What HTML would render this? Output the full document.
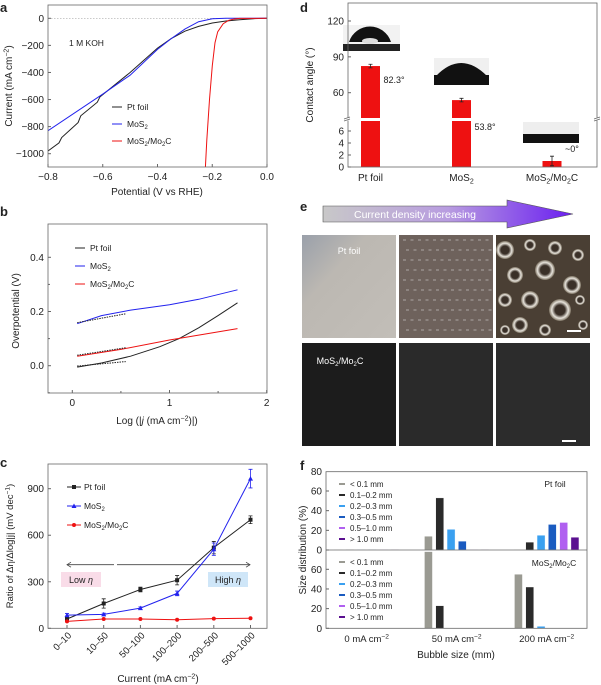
<!DOCTYPE html>
<html><head><meta charset="utf-8"><style>
body{margin:0;background:#fff}
svg{display:block;font-family:"Liberation Sans",sans-serif}
text{fill:#222}
</style></head><body>
<svg id="fig" width="601" height="685" viewBox="0 0 601 685" xmlns="http://www.w3.org/2000/svg">
<defs>
<linearGradient id="arrowG" x1="0" x2="1" y1="0" y2="0"><stop offset="0" stop-color="#c8c8c8"/><stop offset="0.5" stop-color="#b89ce0"/><stop offset="1" stop-color="#6a1ef0"/></linearGradient>
<radialGradient id="bub" cx="0.5" cy="0.5" r="0.5"><stop offset="0.45" stop-color="#3a3028"/><stop offset="0.75" stop-color="#e8e4dc"/><stop offset="1" stop-color="#7a7060"/></radialGradient>
<linearGradient id="ptImg" x1="0" x2="1" y1="0" y2="1"><stop offset="0" stop-color="#9aa0aa"/><stop offset="0.35" stop-color="#bcb8b2"/><stop offset="1" stop-color="#c2beb8"/></linearGradient>
</defs>
<g id="pa"></g>
<g id="pb"></g>
<g id="pc"></g>
<g id="pd"></g>
<g id="pe">
 <text x="300" y="211" font-size="13" font-weight="bold">e</text>
 <polygon points="323,206 507,206 507,200 573,214 507,228 507,222 323,222" fill="url(#arrowG)" stroke="#555" stroke-width="0.6"/>
 <text x="415" y="218" font-size="10.5" text-anchor="middle" style="fill:#fff">Current density increasing</text>
 <rect x="302" y="235" width="94" height="103" fill="url(#ptImg)"/>
 <rect x="399" y="235" width="94" height="103" fill="#6e625c"/>
 <rect x="496" y="235" width="94" height="103" fill="#4a3f34"/>
 <g id="bubbles"></g>
 <rect x="567" y="330" width="14" height="2" fill="#fff"/>
 <text x="349" y="254" font-size="9" text-anchor="middle" style="fill:#fff">Pt foil</text>
 <rect x="302" y="343" width="94" height="103" fill="#1c1c1c"/>
 <rect x="399" y="343" width="94" height="103" fill="#2a2a2a"/>
 <rect x="496" y="343" width="94" height="103" fill="#2c2c2c"/>
 <rect x="562" y="440" width="14" height="2" fill="#fff"/>
 <text x="340" y="364" font-size="9" text-anchor="middle" style="fill:#fff">MoS<tspan font-size="6" dy="2" style="fill:#fff">2</tspan><tspan dy="-2" style="fill:#fff">/Mo</tspan><tspan font-size="6" dy="2" style="fill:#fff">2</tspan><tspan dy="-2" style="fill:#fff">C</tspan></text>
</g>
<g id="pf"></g>
</svg>
<script>
// ---------- data ----------
const aPtX=[-0.8,-0.76,-0.75,-0.69,-0.68,-0.62,-0.61,-0.5,-0.4,-0.35,-0.3,-0.25,-0.2,-0.15,-0.1,-0.05,0];
const aPtY=[-980,-920,-880,-770,-720,-620,-580,-400,-220,-150,-95,-60,-35,-20,-10,-3,0];
const aMoX=[-0.8,-0.6,-0.5,-0.4,-0.35,-0.3,-0.25,-0.2,-0.15,0];
const aMoY=[-830,-560,-420,-230,-150,-80,-25,-3,0,0];
const aMcX=[-0.225,-0.22,-0.21,-0.2,-0.19,-0.18,-0.16,-0.14,-0.12,-0.1,0];
const aMcY=[-1100,-900,-600,-350,-180,-100,-40,-15,-5,-1,0];
const aXTicks=[-0.8,-0.6,-0.4,-0.2,0.0];
const aXLabels=["−0.8","−0.6","−0.4","−0.2","0.0"];
const aYTicks=[0,-200,-400,-600,-800,-1000];
const aYLabels=["0","−200","−400","−600","−800","−1000"];

const bPtX=[0.05,0.3,0.6,0.9,1.1,1.3,1.5,1.7];
const bPtY=[-0.005,0.01,0.035,0.07,0.1,0.14,0.185,0.232];
const bMoX=[0.05,0.3,0.6,1.0,1.3,1.7];
const bMoY=[0.155,0.185,0.205,0.225,0.245,0.28];
const bMcX=[0.05,0.5,1.0,1.7];
const bMcY=[0.035,0.06,0.095,0.137];
const bXTicks=[0,1,2];
const bYTicks=[0.0,0.2,0.4];
const bYLabels=["0.0","0.2","0.4"];

const cCats=["0–10","10–50","50–100","100–200","200–500","500–1000"];
const cPt=[60,160,250,310,520,700];
const cPtErr=[15,30,15,30,40,25];
const cMo=[85,90,130,225,510,965];
const cMoErr=[10,8,8,15,40,60];
const cMc=[45,60,60,55,62,65];
const cYTicks=[0,300,600,900];

const dCats=["Pt foil","MoS2","MoS2/Mo2C"];
const dVals=[82.3,53.8,1];
const dErr=[1.5,1.5,0.8];
const dLabels=["82.3°","53.8°","~0°"];
const dUpperTicks=[60,90,120];
const dLowerTicks=[0,2,4,6];

const fGroups=["0 mA cm−2","50 mA cm−2","200 mA cm−2"];
const fSizes=["< 0.1 mm","0.1–0.2 mm","0.2–0.3 mm","0.3–0.5 mm","0.5–1.0 mm","> 1.0 mm"];
const fPt=[[0.5,0.5,0.5,0.5,0.5,0.5],[14,53,21,9,0.5,0.5],[0.5,8,15,26,28,13]];
const fMc=[[0.3,0.3,0.3,0.3,0.3,0.3],[78,23,0.3,0.3,0.3,0.3],[55,42,2,0.3,0.3,0.3]];
const fYTicks=[0,20,40,60];

// ---------- helpers ----------
const NS="http://www.w3.org/2000/svg";
function mk(parent,tag,attrs,txt){const e=document.createElementNS(NS,tag);for(const k in attrs)e.setAttribute(k,attrs[k]);if(txt!==undefined)e.textContent=txt;parent.appendChild(e);return e;}
function lin(d0,d1,r0,r1){return v=>r0+(v-d0)*(r1-r0)/(d1-d0);}
function sub(parent,x,y,parts,size,anchor,extra){
  const t=mk(parent,'text',Object.assign({x:x,y:y,'font-size':size,'text-anchor':anchor||'start'},extra||{}));
  let shifted=false;
  parts.forEach(p=>{const s=mk(t,'tspan',{});s.textContent=p[0];
    if(p[1]==='sub'){s.setAttribute('font-size',size*0.7);s.setAttribute('dy',shifted?0:size*0.25);shifted=true;}
    else if(p[1]==='sup'){s.setAttribute('font-size',size*0.7);s.setAttribute('dy',-size*0.35);shifted='up';}
    else{if(p[1]==='it')s.setAttribute('font-style','italic');if(shifted===true)s.setAttribute('dy',-size*0.25);if(shifted==='up')s.setAttribute('dy',size*0.35);shifted=false;}
  });return t;}
const moS2=[["MoS"],["2",'sub'],[""]];
const mo2c=[["MoS"],["2",'sub'],["/Mo"],["2",'sub'],["C"]];
function path(xs,ys,sx,sy){return xs.map((v,i)=>(i?'L':'M')+sx(v).toFixed(1)+','+sy(ys[i]).toFixed(1)).join('');}

// ---------- panel a ----------
(function(){
const g=document.getElementById('pa');
const sx=lin(-0.8,0,48,267), sy=lin(0,-1000,18.3,153.7);
mk(g,'text',{x:0,y:12,'font-size':13,'font-weight':'bold',},'a');
mk(g,'line',{x1:48,x2:267,y1:sy(0),y2:sy(0),stroke:'#aaa','stroke-width':0.6,'stroke-dasharray':'1.5,1.5'});
const clip=mk(g,'clipPath',{id:'clipA'});mk(clip,'rect',{x:48,y:5,width:219,height:162});
const cg=mk(g,'g',{'clip-path':'url(#clipA)'});
let p=mk(cg,'path',{d:path(aPtX,aPtY,sx,sy),fill:'none',stroke:'#222','stroke-width':1});

p=mk(cg,'path',{d:path(aMoX,aMoY,sx,sy),fill:'none',stroke:'#2222ee','stroke-width':1});

p=mk(cg,'path',{d:path(aMcX,aMcY,sx,sy),fill:'none',stroke:'#ee1111','stroke-width':1});

const box=mk(g,'rect',{x:48,y:5,width:219,height:162,fill:'none',stroke:'#666','stroke-width':0.8});

aXTicks.forEach((v,i)=>{mk(g,'line',{x1:sx(v),x2:sx(v),y1:167,y2:164,stroke:'#666'});
 const t=mk(g,'text',{x:sx(v),y:180,'font-size':10,'text-anchor':'middle'},aXLabels[i]);
 });
aYTicks.forEach((v,i)=>{mk(g,'line',{x1:48,x2:51,y1:sy(v),y2:sy(v),stroke:'#666'});
 const t=mk(g,'text',{x:44,y:sy(v)+3.5,'font-size':10,'text-anchor':'end'},aYLabels[i]);
 });
let t=mk(g,'text',{x:157,y:195,'font-size':10,'text-anchor':'middle'},'Potential (V vs RHE)');

t=sub(g,0,0,[["Current (mA cm"],["−2",'sup'],[")"]],10,'middle',{transform:'translate(12,86) rotate(-90)'});

t=mk(g,'text',{x:69,y:46,'font-size':8.5},'1 M KOH');

[['#222',[["Pt foil"]]],['#2222ee',moS2],['#ee1111',mo2c]].forEach((L,i)=>{const y=107+i*17;
 const lg=mk(g,'g',{});
 mk(lg,'line',{x1:112,x2:122,y1:y,y2:y,stroke:L[0],'stroke-width':1});sub(lg,127,y+3,L[1],8.5);});
})();

// ---------- panel b ----------
(function(){
const g=document.getElementById('pb');
const sx=lin(0,2,72.3,266.7), sy=lin(0,0.4,365.7,257.3);
mk(g,'text',{x:0,y:216,'font-size':13,'font-weight':'bold',},'b');
let p=mk(g,'path',{d:path(bPtX,bPtY,sx,sy),fill:'none',stroke:'#222','stroke-width':1});

p=mk(g,'path',{d:path(bMoX,bMoY,sx,sy),fill:'none',stroke:'#2222ee','stroke-width':1});

p=mk(g,'path',{d:path(bMcX,bMcY,sx,sy),fill:'none',stroke:'#ee1111','stroke-width':1});

[[bPtX,bPtY],[bMoX,bMoY],[bMcX,bMcY]].forEach(s=>{mk(g,'line',{x1:sx(s[0][0]),y1:sy(s[1][0])-1,x2:sx(0.55),y2:sy(s[1][0])-1-(sy(s[1][0])-sy(s[1][1]))*1.1,stroke:'#222','stroke-width':1,'stroke-dasharray':'1.5,1'});});
const box=mk(g,'rect',{x:48,y:224,width:219,height:169,fill:'none',stroke:'#666','stroke-width':0.8});

bXTicks.forEach(v=>{mk(g,'line',{x1:sx(v),x2:sx(v),y1:393,y2:390,stroke:'#666'});
 const t=mk(g,'text',{x:sx(v),y:406,'font-size':10,'text-anchor':'middle'},String(v));
 });
[0.5,1.5].forEach(v=>mk(g,'line',{x1:sx(v),x2:sx(v),y1:393,y2:391,stroke:'#666'}));
bYTicks.forEach((v,i)=>{mk(g,'line',{x1:48,x2:51,y1:sy(v),y2:sy(v),stroke:'#666'});
 const t=mk(g,'text',{x:44,y:sy(v)+3.5,'font-size':10,'text-anchor':'end'},bYLabels[i]);
 });
[0.1,0.3,-0.1].forEach(v=>mk(g,'line',{x1:48,x2:50,y1:sy(v),y2:sy(v),stroke:'#666'}));
let t=sub(g,157,424,[["Log (|"],["j",'it'],[" (mA cm"],["−2",'sup'],[")|)"]],10,'middle');

t=mk(g,'text',{x:0,y:0,'font-size':10,'text-anchor':'middle',transform:'translate(19,311) rotate(-90)'},'Overpotential (V)');

[['#222',[["Pt foil"]]],['#2222ee',moS2],['#ee1111',mo2c]].forEach((L,i)=>{const y=248+i*18;
 const lg=mk(g,'g',{});
 mk(lg,'line',{x1:75,x2:85,y1:y,y2:y,stroke:L[0],'stroke-width':1});sub(lg,90,y+3,L[1],8.5);});
})();

// ---------- panel c ----------
(function(){
const g=document.getElementById('pc');
const sx=i=>67+i*36.7, sy=lin(0,900,628.3,488.7);
mk(g,'text',{x:0,y:467,'font-size':13,'font-weight':'bold',},'c');
mk(g,'rect',{x:61,y:572,width:40,height:15,fill:'#f9dce8'});
mk(g,'rect',{x:208,y:572,width:40,height:15,fill:'#cfe6f8'});
sub(g,81,583,[["Low "],["η",'it']],9,'middle');
sub(g,228,583,[["High "],["η",'it']],9,'middle');
const ay=sy(410);
mk(g,'line',{x1:67,x2:114,y1:ay,y2:ay,stroke:'#444','stroke-width':0.8});
mk(g,'line',{x1:117,x2:250,y1:ay,y2:ay,stroke:'#444','stroke-width':0.8});
mk(g,'path',{d:`M71,${ay-2.5}L67,${ay}L71,${ay+2.5}M246,${ay-2.5}L250,${ay}L246,${ay+2.5}`,fill:'none',stroke:'#444','stroke-width':0.8});
const series=[[cPt,cPtErr,'#222','pt-foil'],[cMo,cMoErr,'#2222ee','mos2'],[cMc,null,'#ee1111','mos2-mo2c']];
series.forEach((s,si)=>{
 const p=mk(g,'path',{d:s[0].map((v,i)=>(i?'L':'M')+sx(i)+','+sy(v)).join(''),fill:'none',stroke:s[2],'stroke-width':1});
 
 s[0].forEach((v,i)=>{
  if(s[1]){const e=s[1][i];mk(g,'path',{d:`M${sx(i)},${sy(v-e)}V${sy(v+e)}M${sx(i)-2},${sy(v-e)}h4M${sx(i)-2},${sy(v+e)}h4`,stroke:s[2],'stroke-width':0.8,fill:'none'});}
  let m;
  if(si===0)m=mk(g,'rect',{x:sx(i)-2,y:sy(v)-2,width:4,height:4,fill:s[2]});
  else if(si===1)m=mk(g,'polygon',{points:`${sx(i)},${sy(v)-2.5} ${sx(i)-2.5},${sy(v)+2} ${sx(i)+2.5},${sy(v)+2}`,fill:s[2]});
  else m=mk(g,'circle',{cx:sx(i),cy:sy(v),r:2,fill:s[2]});
  
 });
});
const box=mk(g,'rect',{x:48,y:464,width:219,height:164.3,fill:'none',stroke:'#666','stroke-width':0.8});

cYTicks.forEach(v=>{mk(g,'line',{x1:48,x2:51,y1:sy(v),y2:sy(v),stroke:'#666'});
 const t=mk(g,'text',{x:44,y:sy(v)+3.5,'font-size':10,'text-anchor':'end'},String(v));
 });
cCats.forEach((c,i)=>{mk(g,'line',{x1:sx(i),x2:sx(i),y1:628,y2:625,stroke:'#666'});
 const t=mk(g,'text',{x:0,y:0,'font-size':9.5,'text-anchor':'end',transform:`translate(${sx(i)+5},${636}) rotate(-45)`},c);
 });
let t=sub(g,158,682,[["Current (mA cm"],["−2",'sup'],[")"]],10,'middle');

t=sub(g,0,0,[["Ratio of Δη/Δlog|j| (mV dec"],["−1",'sup'],[")"]],9.5,'middle',{transform:'translate(13,546) rotate(-90)'});

[['#222',[["Pt foil"]],0],['#2222ee',moS2,1],['#ee1111',mo2c,2]].forEach((L,i)=>{const y=487+i*19;
 const lg=mk(g,'g',{});
 mk(lg,'line',{x1:67,x2:81,y1:y,y2:y,stroke:L[0],'stroke-width':1});
 if(i===0)mk(lg,'rect',{x:72,y:y-2,width:4,height:4,fill:L[0]});
 else if(i===1)mk(lg,'polygon',{points:`74,${y-2.5} 71.5,${y+2} 76.5,${y+2}`,fill:L[0]});
 else mk(lg,'circle',{cx:74,cy:y,r:2,fill:L[0]});
 sub(lg,84,y+3,L[1],8.5);});
})();

// ---------- panel d ----------
(function(){
const g=document.getElementById('pd');
const syU=lin(60,120,92.7,21), syL=lin(0,6,167,131);
const breakTop=118, breakBot=121;
const sy=v=>v>=45?syU(v):syL(v);
mk(g,'text',{x:300,y:12,'font-size':13,'font-weight':'bold',},'d');
const bx=[370.5,461.5,552];
mk(g,'rect',{x:343,y:25,width:57,height:26,fill:'#f2f2f2'});mk(g,'rect',{x:343,y:44,width:57,height:7,fill:'#222'});
mk(g,'path',{d:'M349,42 A22,22 0 0 1 391,42 Z',fill:'#111'});mk(g,'ellipse',{cx:370,cy:41,rx:8,ry:3,fill:'#ddd'});
mk(g,'rect',{x:434,y:58,width:55,height:27,fill:'#f0f0f0'});mk(g,'path',{d:'M436,76 Q461,50 487,76 Z',fill:'#111'});mk(g,'rect',{x:434,y:75,width:55,height:10,fill:'#111'});
mk(g,'rect',{x:523,y:122,width:56,height:21,fill:'#eee'});mk(g,'rect',{x:523,y:134,width:56,height:9,fill:'#111'});
dVals.forEach((v,i)=>{const x=bx[i]-9.5;
 let r;
 if(v>=45){r=mk(g,'rect',{x:x,y:sy(v),width:19,height:breakTop-sy(v),fill:'#ee1111'});
  mk(g,'rect',{x:x,y:breakBot,width:19,height:167-breakBot,fill:'#ee1111'});}
 else r=mk(g,'rect',{x:x,y:sy(v),width:19,height:167-sy(v),fill:'#ee1111'});
 
 const e=dErr[i];
 mk(g,'path',{d:`M${bx[i]},${sy(v-e)}V${sy(v+e)}M${bx[i]-2},${sy(v-e)}h4M${bx[i]-2},${sy(v+e)}h4`,stroke:'#222','stroke-width':0.8,fill:'none'});
 const t=mk(g,'text',{x:bx[i]+13,y:i<2?(sy(v)+17):152,'font-size':9},dLabels[i]);
 if(i===1)t.setAttribute('y',130);
 
});
const box=mk(g,'rect',{x:348,y:3,width:249,height:164,fill:'none',stroke:'#666','stroke-width':0.8});

mk(g,'rect',{x:343,y:breakTop-0.5,width:8,height:3,fill:'#fff'});mk(g,'rect',{x:594,y:breakTop-0.5,width:7,height:3,fill:'#fff'});
mk(g,'path',{d:`M344,${breakTop+1}l6,-2M344,${breakTop+3}l6,-2M594,${breakTop+1}l6,-2M594,${breakTop+3}l6,-2`,stroke:'#666','stroke-width':0.7});
dUpperTicks.forEach(v=>{mk(g,'line',{x1:348,x2:351,y1:syU(v),y2:syU(v),stroke:'#666'});
 const t=mk(g,'text',{x:344,y:syU(v)+3.5,'font-size':10,'text-anchor':'end'},String(v));
 });
dLowerTicks.forEach(v=>{mk(g,'line',{x1:348,x2:351,y1:syL(v),y2:syL(v),stroke:'#666'});
 const t=mk(g,'text',{x:344,y:syL(v)+3.5,'font-size':10,'text-anchor':'end'},String(v));
 });
[[["Pt foil"]],moS2,mo2c].forEach((L,i)=>{const t=sub(g,bx[i],181,L,10,'middle');
 });
const t=mk(g,'text',{x:0,y:0,'font-size':10,'text-anchor':'middle',transform:'translate(313,85) rotate(-90)'},'Contact angle (°)');

})();

// ---------- panel e decoration ----------
(function(){
const g=document.getElementById('bubbles');
const bb=[[505,250,9],[530,245,6],[555,248,7],[578,255,6],[515,275,8],[545,270,10],[572,285,9],[505,300,7],[530,300,9],[560,310,11],[580,300,5],[520,325,8],[545,330,6],[505,330,5],[583,325,5]];
bb.forEach(b=>mk(g,'circle',{cx:b[0],cy:b[1],r:b[2],fill:'url(#bub)'}));
for(let i=0;i<12;i++)for(let j=0;j<10;j++){mk(g,'line',{x1:403+i*7.5+(j%2)*3,x2:406+i*7.5+(j%2)*3,y1:240+j*10,y2:240+j*10,stroke:'#ddd','stroke-width':0.8,opacity:0.7});}
})();

// ---------- panel f ----------
(function(){
const g=document.getElementById('pf');
const syU=lin(0,60,550,491), syL=lin(0,60,628.3,569.3);
const cols=['#9a9a92','#2a2a2a','#3aa0f0','#1a5bc0','#b060f0','#5a1090'];
const gx=[366.7,456.7,546.7];
mk(g,'text',{x:300,y:470,'font-size':13,'font-weight':'bold',},'f');
[[fPt,syU,550],[fMc,syL,628.3]].forEach((P,pi)=>{
 P[0].forEach((grp,gi)=>grp.forEach((v,k)=>{
  const x=gx[gi]+(k-2.5)*11.3-4;
  const r=mk(g,'rect',{x:x,y:P[1](v),width:8,height:P[2]-P[1](v),fill:cols[k],stroke:'#fff','stroke-width':0.4});
  
 }));
 fYTicks.forEach(v=>{mk(g,'line',{x1:326,x2:329,y1:P[1](v),y2:P[1](v),stroke:'#666'});
  const t=mk(g,'text',{x:322,y:P[1](v)+3.5,'font-size':10,'text-anchor':'end'},String(v));
  });
 fSizes.forEach((s,k)=>{const y=(pi?562:484)+k*11;
  const lg=mk(g,'g',{});
  mk(lg,'line',{x1:339,x2:345,y1:y,y2:y,stroke:cols[k],'stroke-width':2});
  mk(lg,'text',{x:350,y:y+3,'font-size':8},s);});
});
mk(g,'line',{x1:326,x2:587,y1:550,y2:550,stroke:'#666','stroke-width':0.8});
const box=mk(g,'rect',{x:326,y:471.7,width:261,height:156.6,fill:'none',stroke:'#666','stroke-width':0.8});

mk(g,'text',{x:322,y:475,'font-size':10,'text-anchor':'end'},'80');
mk(g,'text',{x:555,y:487,'font-size':8.5,'text-anchor':'middle'},'Pt foil');
sub(g,554,566,mo2c,8.5,'middle');
fGroups.forEach((s,i)=>{const t=sub(g,gx[i],642,[[s.replace('−2','')],["−2",'sup']],9.5,'middle');
 });
let t=mk(g,'text',{x:456,y:658,'font-size':10,'text-anchor':'middle'},'Bubble size (mm)');

t=mk(g,'text',{x:0,y:0,'font-size':10,'text-anchor':'middle',transform:'translate(306,550) rotate(-90)'},'Size distribution (%)');

})();
</script>
</body></html>
